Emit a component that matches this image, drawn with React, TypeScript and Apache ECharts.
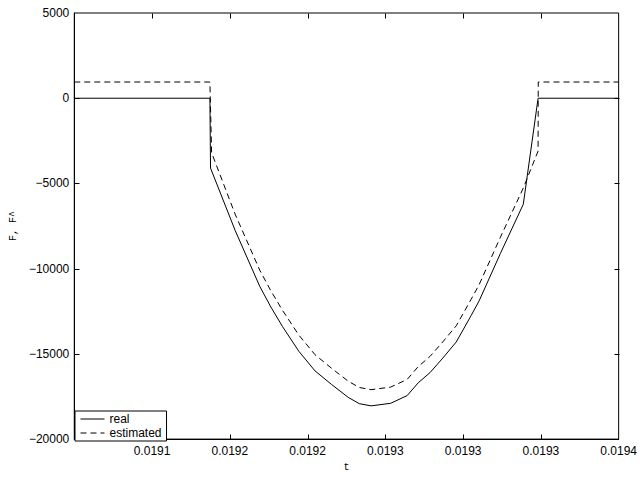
import React, { useEffect, useRef } from "react";
import * as echarts from "echarts";

// time axis values (s)
const realT = [
  0.01905, 0.0191372, 0.0191376,
  0.0191534, 0.0191692, 0.0191764, 0.0191839, 0.0191944, 0.0192048, 0.0192155,
  0.0192261, 0.0192332, 0.0192408, 0.0192534, 0.019264, 0.0192711, 0.0192787,
  0.0192869, 0.0192956, 0.0193051, 0.0193103, 0.019324, 0.0193387,
  0.0193482, 0.0194,
];
const realF = [
  0, 0, -4100,
  -7750, -11030, -12250, -13400, -14850, -16000, -16800,
  -17550, -17920, -18050, -17900, -17450, -16700, -16100,
  -15250, -14300, -12760, -11890, -9100, -6220,
  0, 0,
];
const estT = [
  0.01905, 0.0191372, 0.0191383,
  0.0191534, 0.0191692, 0.0191764, 0.0191839, 0.0191944, 0.0192048, 0.0192155,
  0.0192261, 0.0192332, 0.0192408, 0.0192534, 0.019264, 0.0192711, 0.0192787,
  0.0192869, 0.0192956, 0.0193051, 0.0193103, 0.019324, 0.0193387,
  0.0193482, 0.0193483, 0.0194,
];
const estF = [
  950, 950, -3200,
  -6800, -10080, -11300, -12450, -13900, -15050, -15850,
  -16600, -16970, -17100, -16950, -16500, -15750, -15150,
  -14300, -13350, -11810, -10940, -8150, -5270,
  -3100, 950, 950,
];

const xMin = 0.01905;
const xMax = 0.0194;
const xStep = 0.00005;
const xTickLabels = ["0.0191", "0.0192", "0.0192", "0.0193", "0.0193", "0.0193", "0.0194"];
const yMin = -20000;
const yMax = 5000;
const yStep = 5000;
const yTickValues = [-15000, -10000, -5000, 0];

const FONT = "Liberation Sans, Arial, Helvetica, sans-serif";

export default function App() {
  const ref = useRef<HTMLDivElement>(null);
  useEffect(() => {
    if (!ref.current) return;
    const chart = echarts.init(ref.current, undefined, { renderer: "svg" });
    const xLabel = (v: number) => {
      const idx = Math.round((v - xMin) / xStep);
      if (idx <= 0) return "";
      return xTickLabels[idx - 1] ?? "";
    };
    const axisLine = { show: true, onZero: false, lineStyle: { color: "#000", width: 1 } };

    const tickStyle = { stroke: "#000", lineWidth: 1 };
    const L = 5;
    const tickElements = (c: echarts.ECharts) => {
      const px = (v: number) => c.convertToPixel({ xAxisIndex: 0 }, v) as number;
      const py = (v: number) => c.convertToPixel({ yAxisIndex: 0 }, v) as number;
      const crisp = (v: number) => Math.round(v) + 0.5;
      const left = crisp(px(xMin));
      const right = crisp(px(xMax));
      const bottom = crisp(py(yMin));
      const top = crisp(py(yMax));
      const els: any[] = [];
      xTickLabels.slice(0, -1).forEach((_, i) => {
        const x = crisp(px(xMin + (i + 1) * xStep));
        els.push({ type: "line", z: 1, silent: true, shape: { x1: x, y1: bottom, x2: x, y2: bottom - L }, style: tickStyle });
        els.push({ type: "line", z: 1, silent: true, shape: { x1: x, y1: top, x2: x, y2: top + L }, style: tickStyle });
      });
      yTickValues.forEach((v) => {
        const y = crisp(py(v));
        els.push({ type: "line", z: 1, silent: true, shape: { x1: left, y1: y, x2: left + L, y2: y }, style: tickStyle });
        els.push({ type: "line", z: 1, silent: true, shape: { x1: right, y1: y, x2: right - L, y2: y }, style: tickStyle });
      });
      return els;
    };

    chart.setOption({
      animation: false,
      backgroundColor: "#fff",
      grid: {
        left: 68,
        right: 18,
        top: 13,
        bottom: 31,
        containLabel: false,
        show: true,
        borderColor: "#000",
        borderWidth: 1,
        backgroundColor: "transparent",
      },
      legend: {
        left: 75,
        top: 411,
        orient: "vertical",
        backgroundColor: "#fff",
        borderColor: "#000",
        borderWidth: 1,
        borderRadius: 0,
        padding: [2, 5, 2, 5],
        itemWidth: 24,
        itemHeight: 12,
        itemGap: 2,
        itemStyle: { color: "transparent", borderColor: "transparent", borderWidth: 0, opacity: 0 },
        lineStyle: { width: 1 },
        textStyle: { color: "#000", fontFamily: FONT, fontSize: 12, lineHeight: 12 },
        data: ["real", "estimated"],
        z: 10,
      },
      xAxis: {
        type: "value",
        min: xMin,
        max: xMax,
        interval: xStep,
        position: "bottom",
        name: "t",
        nameLocation: "middle",
        nameGap: 20,
        nameTextStyle: { color: "#000", fontFamily: "Liberation Mono, monospace", fontSize: 10 },
        axisLine,
        axisTick: { show: false },
        splitLine: { show: false },
        axisLabel: {
          color: "#000",
          fontFamily: FONT,
          fontSize: 12,
          margin: 6,
          formatter: xLabel,
        },
      },
      yAxis: {
        type: "value",
        min: yMin,
        max: yMax,
        interval: yStep,
        position: "left",
        name: "F, F^",
        nameLocation: "middle",
        nameGap: 54,
        nameRotate: 90,
        nameTextStyle: { color: "#000", fontFamily: "Liberation Mono, monospace", fontSize: 10 },
        axisLine,
        axisTick: { show: false },
        splitLine: { show: false },
        axisLabel: {
          color: "#000",
          fontFamily: FONT,
          fontSize: 12,
          margin: 5,
          formatter: (v: number) => String(v).replace("-", "\u2212"),
        },
      },
      series: [
        {
          name: "real",
          type: "line",
          symbol: "none",
          lineStyle: { color: "#000", width: 1, type: "solid" },
          itemStyle: { color: "#000" },
          data: realT.map((t, i) => [t, realF[i]]),
        },
        {
          name: "estimated",
          type: "line",
          symbol: "none",
          lineStyle: { color: "#000", width: 1, type: [6, 4] },
          itemStyle: { color: "#000" },
          data: estT.map((t, i) => [t, estF[i]]),
        },
      ],
    });

    // inward tick marks on all four sides, placed through the axis scales
    chart.setOption({ graphic: { elements: tickElements(chart) } });

    return () => chart.dispose();
  }, []);
  return (
    <div
      ref={ref}
      style={{ position: "fixed", left: 0, top: 0, width: 640, height: 477, background: "#fff" }}
    />
  );
}
